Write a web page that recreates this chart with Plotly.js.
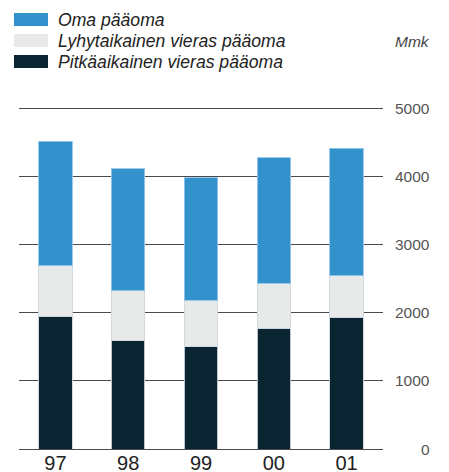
<!DOCTYPE html>
<html>
<head>
<meta charset="utf-8">
<script src="https://cdn.plot.ly/plotly-3.0.1.min.js"></script>
<style>html,body{margin:0;padding:0;background:#fff;}#chart{width:449px;height:472px;}</style>
</head>
<body>
<div id="chart"></div>
<script>
const years = ['97', '98', '99', '00', '01'];
const pitkaaikainen = [1944, 1585, 1496, 1772, 1929];
const lyhytaikainen = [741, 736, 688, 658, 608];
const oma = [1830, 1792, 1792, 1841, 1871];
const yTicks = [0, 1000, 2000, 3000, 4000, 5000];
const seriesNames = ['Oma pääoma', 'Lyhytaikainen vieras pääoma', 'Pitkäaikainen vieras pääoma'];
const colors = {oma: '#3391CB', lyhyt: '#E8EAEA', pitka: '#0B2431'};

const W = 449, H = 472;
const M = {l: 19, r: 66, t: 107, b: 23};
const pw = W - M.l - M.r, ph = H - M.t - M.b;
const px = x => (x - M.l) / pw;
const py = y => (H - M.b - y) / ph;

const FONT = 'Liberation Sans, Arial, sans-serif';
const edge = {color: 'rgba(205,215,222,0.9)', width: 1};

const traces = [
  {type: 'bar', name: seriesNames[2], x: years, y: pitkaaikainen, marker: {color: colors.pitka, line: edge}},
  {type: 'bar', name: seriesNames[1], x: years, y: lyhytaikainen, marker: {color: colors.lyhyt, line: edge}},
  {type: 'bar', name: seriesNames[0], x: years, y: oma, marker: {color: colors.oma, line: {color: 'rgba(150,200,235,0.9)', width: 1}}}
];

const legendRows = [
  {name: seriesNames[0], color: colors.oma, cy: 19.5},
  {name: seriesNames[1], color: colors.lyhyt, cy: 40.5},
  {name: seriesNames[2], color: colors.pitka, cy: 61.5}
];

const shapes = legendRows.map(r => ({
  type: 'rect', xref: 'paper', yref: 'paper',
  x0: px(14), x1: px(48), y0: py(r.cy - 6.5), y1: py(r.cy + 6.5),
  fillcolor: r.color, line: {width: 0}, layer: 'above'
}));

const annotations = [];
legendRows.forEach(r => annotations.push({
  xref: 'paper', yref: 'paper', x: px(56), y: py(r.cy), xanchor: 'left', yanchor: 'middle',
  text: '<i>' + r.name + '</i>', showarrow: false,
  font: {family: FONT, size: 17.6, color: '#222'}
}));
annotations.push({
  xref: 'paper', yref: 'paper', x: px(432), y: py(42), xanchor: 'right', yanchor: 'middle',
  text: '<i>Mmk</i>', showarrow: false, font: {family: FONT, size: 15.5, color: '#444'}
});
yTicks.forEach(v => annotations.push({
  xref: 'paper', yref: 'y', x: px(432), y: v, xanchor: 'right', yanchor: 'middle',
  text: String(v), showarrow: false, font: {family: FONT, size: 15.5, color: '#555'}
}));

const layout = {
  width: W, height: H,
  margin: M,
  paper_bgcolor: '#fff', plot_bgcolor: '#fff',
  barmode: 'stack', bargap: 0.54,
  showlegend: false,
  font: {family: FONT},
  xaxis: {
    type: 'category', showgrid: false, showline: false, zeroline: false,
    ticks: '', tickfont: {family: FONT, size: 20, color: '#222'}, ticklabelstandoff: 0
  },
  yaxis: {
    range: [0, 5015], tickvals: yTicks, showticklabels: false, side: 'right',
    showgrid: true, gridcolor: '#4a4a4a', gridwidth: 1,
    zeroline: true, zerolinecolor: '#4a4a4a', zerolinewidth: 1, showline: false, ticks: ''
  },
  shapes: shapes,
  annotations: annotations
};

Plotly.newPlot('chart', traces, layout, {displayModeBar: false, staticPlot: true});
</script>
</body>
</html>
